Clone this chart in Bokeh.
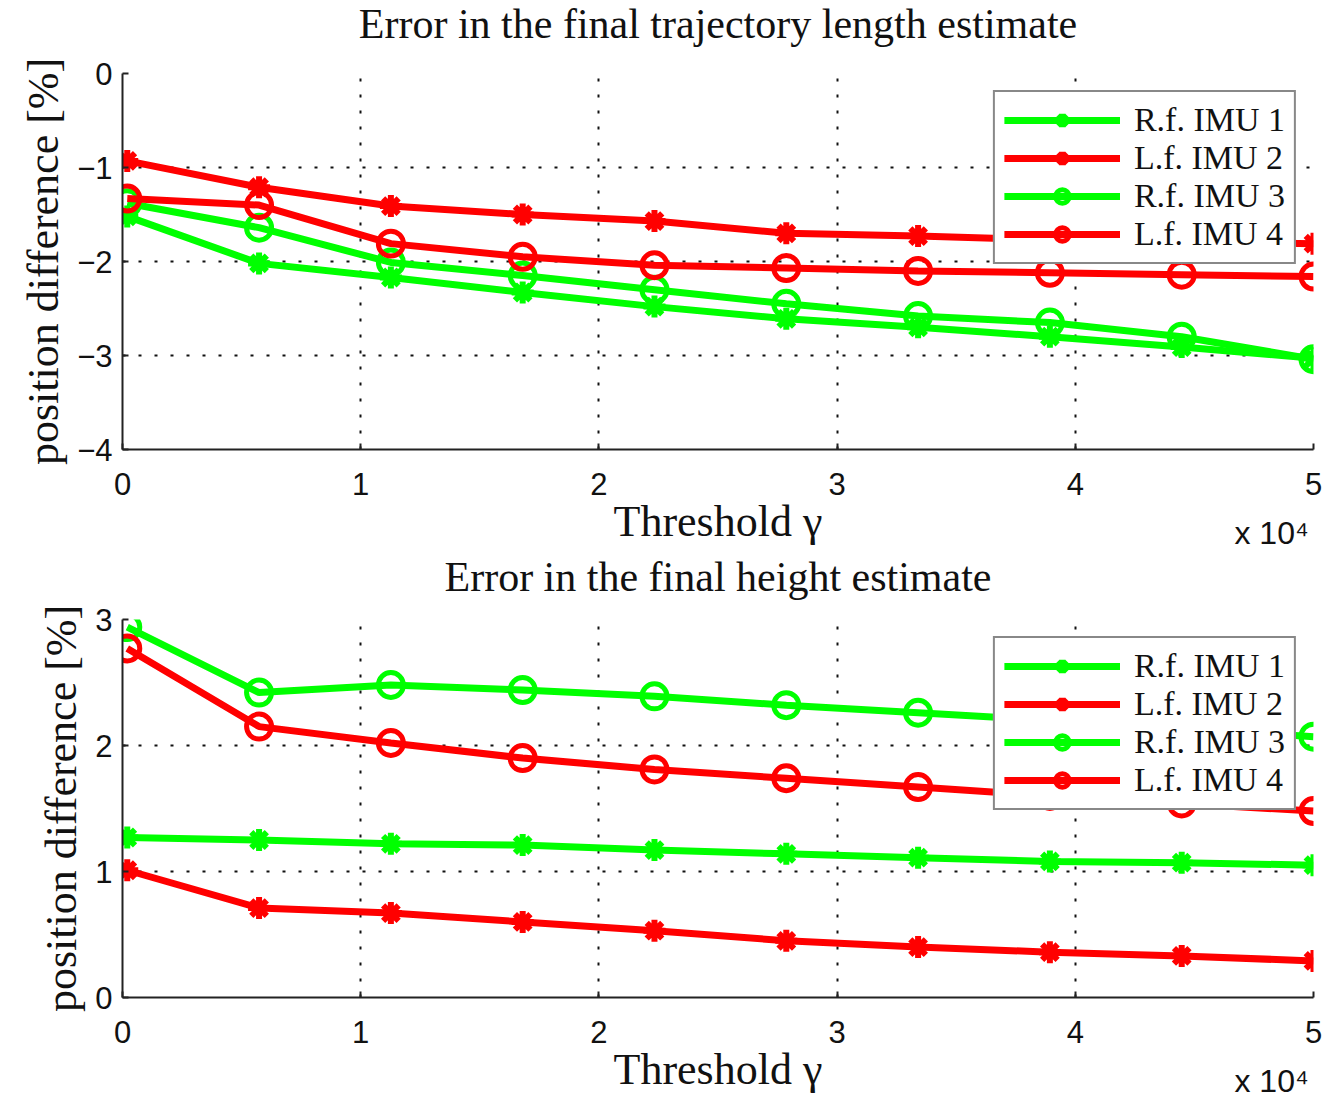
from bokeh.plotting import figure
from bokeh.models import Range1d, FixedTicker, Legend, LinearAxis
from bokeh.layouts import column
from bokeh.embed import file_html
from bokeh.resources import INLINE

# ---------------- data ----------------
threshold = [200, 5733, 11267, 16800, 22333, 27867, 33400, 38933, 44467, 50000]
series_names = ["R.f. IMU 1", "L.f. IMU 2", "R.f. IMU 3", "L.f. IMU 4"]

length_rf1 = [-1.52, -2.02, -2.17, -2.33, -2.48, -2.61, -2.70, -2.80, -2.91, -3.03]
length_lf2 = [-0.93, -1.21, -1.41, -1.50, -1.57, -1.70, -1.73, -1.77, -1.79, -1.81]
length_rf3 = [-1.38, -1.64, -2.01, -2.15, -2.30, -2.45, -2.58, -2.65, -2.80, -3.04]
length_lf4 = [-1.33, -1.40, -1.81, -1.95, -2.04, -2.07, -2.10, -2.12, -2.14, -2.16]

height_rf1 = [1.27, 1.25, 1.22, 1.21, 1.17, 1.14, 1.11, 1.08, 1.07, 1.05]
height_lf2 = [1.01, 0.71, 0.67, 0.60, 0.53, 0.45, 0.40, 0.36, 0.33, 0.29]
height_rf3 = [2.94, 2.42, 2.48, 2.44, 2.39, 2.32, 2.26, 2.20, 2.14, 2.07]
height_lf4 = [2.77, 2.15, 2.02, 1.90, 1.81, 1.74, 1.67, 1.60, 1.54, 1.48]

x_ticks = [0, 10000, 20000, 30000, 40000, 50000]
x_tick_labels = ["0", "1", "2", "3", "4", "5"]
top_y_ticks = [-4, -3, -2, -1, 0]
top_y_labels = ["\u22124", "\u22123", "\u22122", "\u22121", "0"]
bot_y_ticks = [0, 1, 2, 3]
bot_y_labels = ["0", "1", "2", "3"]
exponent_pos = [48240]
exponent_text = ["x 10\u2074"]

titles = ["Error in the final trajectory length estimate", "Error in the final height estimate"]
x_label = "Threshold \u03b3"
y_label = "position difference [%]"

GREEN = "#00ff00"
RED = "#ff0000"
SERIF = "Liberation Serif"
SANS = "Liberation Sans"


def title_strip(text, total_height, standoff):
    """A figure that only carries a centred title above an empty, invisible frame."""
    t = figure(width=1326, height=total_height,
               min_border_left=122, min_border_right=13,
               min_border_top=0, min_border_bottom=0,
               x_range=Range1d(0, 1), y_range=Range1d(0, 1),
               x_axis_location=None, y_axis_location=None,
               output_backend="svg", toolbar_location=None)
    t.grid.visible = False
    t.outline_line_color = None
    t.background_fill_color = "white"
    t.border_fill_color = "white"
    t.title.text = text
    t.title.align = "center"
    t.title.vertical_align = "top"
    t.title.standoff = standoff
    t.title.text_font = SERIF
    t.title.text_font_size = "42px"
    t.title.text_font_style = "normal"
    t.title.text_color = "#111111"
    return t


def make_panel(series, y_range, y_ticks, y_labels, top_border, frame_h):
    p = figure(frame_width=1191, frame_height=frame_h,
               min_border_left=122, min_border_right=13,
               min_border_top=top_border, min_border_bottom=0,
               x_range=Range1d(0, 50000), y_range=Range1d(*y_range),
               output_backend="svg", toolbar_location=None)
    p.title = None
    p.outline_line_color = None
    p.background_fill_color = "white"
    p.border_fill_color = "white"

    # axes
    p.xaxis.ticker = FixedTicker(ticks=x_ticks)
    p.xaxis.major_label_overrides = dict(zip(x_ticks, x_tick_labels))
    p.yaxis.ticker = FixedTicker(ticks=y_ticks)
    p.yaxis.major_label_overrides = dict(zip(y_ticks, y_labels))
    for ax in (p.xaxis[0], p.yaxis[0]):
        ax.axis_line_color = "#222222"
        ax.axis_line_width = 2
        ax.major_tick_in = 6
        ax.major_tick_out = 0
        ax.major_tick_line_color = "#222222"
        ax.major_tick_line_width = 2
        ax.minor_tick_line_color = None
        ax.major_label_text_font = SANS
        ax.major_label_text_font_size = "31px"
        ax.major_label_text_color = "#111111"
        ax.axis_label_text_font = SERIF
        ax.axis_label_text_font_size = "44px"
        ax.axis_label_text_font_style = "normal"
        ax.axis_label_text_color = "#111111"
    p.xaxis.axis_label = x_label
    p.xaxis.major_label_standoff = 23
    p.xaxis.axis_label_standoff = -1
    p.yaxis.axis_label = y_label
    p.yaxis.major_label_standoff = 10
    p.yaxis.axis_label_standoff = 6

    # exponent note below the x axis
    ex = LinearAxis(ticker=FixedTicker(ticks=exponent_pos),
                    major_label_overrides=dict(zip(exponent_pos, exponent_text)))
    ex.axis_line_color = None
    ex.major_tick_line_color = None
    ex.minor_tick_line_color = None
    ex.major_tick_in = 0
    ex.major_tick_out = 0
    ex.major_label_standoff = -34
    ex.major_label_text_font = SANS
    ex.major_label_text_font_size = "32px"
    ex.major_label_text_color = "#111111"
    p.add_layout(ex, "below")

    # grid
    for g in (p.xgrid[0], p.ygrid[0]):
        g.grid_line_color = "#111111"
        g.grid_line_dash = "3 13"
        g.grid_line_width = 2
    p.xgrid.ticker = FixedTicker(ticks=x_ticks)
    p.ygrid.ticker = FixedTicker(ticks=y_ticks)

    colors = [GREEN, RED, GREEN, RED]
    markers = ["asterisk", "asterisk", "circle", "circle"]
    items = []
    for name, vals, c, m in zip(series_names, series, colors, markers):
        lr = p.line(threshold, vals, line_color=c, line_width=7)
        if m == "circle":
            sr = p.scatter(threshold, vals, marker="circle", size=25, fill_color=None,
                           line_color=c, line_width=5)
        else:
            sr = p.scatter(threshold, vals, marker="asterisk", size=22,
                           line_color=c, line_width=6)
        items.append((name, [lr, sr]))

    legend = Legend(items=items, location="top_right")
    legend.margin = 17
    legend.padding = 9
    legend.spacing = 0
    legend.glyph_width = 116
    legend.glyph_height = 34
    legend.label_height = 34
    legend.label_standoff = 14
    legend.label_text_font = SERIF
    legend.label_text_font_size = "34px"
    legend.label_text_color = "#111111"
    legend.border_line_color = "#111111"
    legend.border_line_width = 2
    legend.background_fill_color = "white"
    legend.background_fill_alpha = 1.0
    p.add_layout(legend, "center")
    return p


t1 = title_strip(titles[0], 55, 0)
p1 = make_panel([length_rf1, length_lf2, length_rf3, length_lf4],
                (-4, 0), top_y_ticks, top_y_labels, 18, 376)
t2 = title_strip(titles[1], 48, 0)
p2 = make_panel([height_rf1, height_lf2, height_rf3, height_lf4],
                (0, 3), bot_y_ticks, bot_y_labels, 18, 378)

layout = column(t1, p1, t2, p2, spacing=0)
open("out.html", "w").write(file_html(layout, INLINE))
